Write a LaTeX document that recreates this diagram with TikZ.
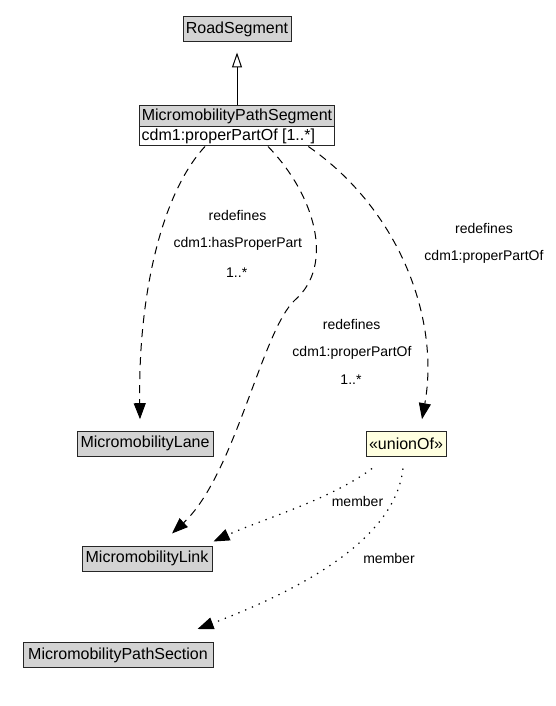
\documentclass[tikz,border=0pt]{standalone}
\usepackage{fontspec}
\setmainfont{Liberation Sans}
\usetikzlibrary{arrows.meta}
\definecolor{clsgray}{RGB}{211,211,211}
\definecolor{unionyel}{RGB}{255,255,224}
\begin{document}
\begin{tikzpicture}[x=0.75pt,y=-0.75pt,
 cls/.style={draw=black!85, line width=0.75pt, fill=clsgray, inner sep=0pt, minimum height=18.75pt, font=\fontsize{12}{14}\selectfont},
 attr/.style={draw=black!85, line width=0.75pt, fill=white, inner xsep=1.5pt, inner ysep=0pt, minimum height=14.25pt, font=\fontsize{12}{14}\selectfont},
 lbl/.style={font=\fontsize{10.5}{12}\selectfont, inner sep=0pt},
 dep/.style={draw, line width=0.75pt, dash pattern=on 6pt off 4.5pt, -{Triangle[length=12pt,width=9pt]}},
 mem/.style={draw, line width=0.9pt, dash pattern=on 1pt off 4.5pt, -{Triangle[length=12pt,width=9pt]}},
 gen/.style={draw, line width=0.75pt, -{Triangle[open,length=11.25pt,width=7.5pt]}}]
\useasboundingbox[fill=white] (0,0) rectangle (556,706);

% classes
\node[cls, minimum width=81pt] (rs) at (237,29.5) {RoadSegment};
\node[cls, minimum width=146.25pt, minimum height=15.75pt] (ps) at (237,116.5) {MicromobilityPathSegment};
\node[attr, minimum width=146.25pt] (psa) at (237,136.5) {\makebox[143pt][l]{cdm1:properPartOf [1..*]}};
\node[cls, minimum width=102pt] (lane) at (145,443.5) {MicromobilityLane};
\node[cls, fill=unionyel, minimum width=60pt] (union) at (406,443.5) {«unionOf»};
\node[cls, minimum width=97.5pt] (link) at (147,558.5) {MicromobilityLink};
\node[cls, minimum width=142.5pt] (sec) at (118,655) {MicromobilityPathSection};

% generalization
\draw[gen] (ps.north) -- ([yshift=-7.5pt]rs.south);

% redefines dependencies
\draw[dep] ([xshift=-24pt]psa.south) .. controls (160,195) and (138,300) .. ([xshift=-3.75pt,yshift=8.5pt]lane.north);
\draw[dep] ([xshift=23.25pt]psa.south) .. controls (315,195) and (335,265) .. (295,300)
  .. controls (262,330) and (235,475) .. ([xshift=18.75pt,yshift=9pt]link.north);
\draw[dep] ([xshift=53.5pt]psa.south) .. controls (400,210) and (440,320) .. ([xshift=12pt,yshift=8.5pt]union.north);

% member links
\draw[mem] ([xshift=-25.5pt,yshift=-9pt]union.south) .. controls (330,500) and (260,520) .. ([xshift=0.75pt,yshift=3pt]link.north east);
\draw[mem] ([xshift=-2.25pt,yshift=-9pt]union.south) .. controls (395,540) and (300,590) .. ([xshift=-12pt,yshift=9.75pt]sec.north east);

% labels
\node[lbl] (l1a) at (237.5,215) {redefines};
\node[lbl] (l1b) at (237.8,244) {cdm1:hasProperPart};
\node[lbl] (l1c) at (236.7,273) {1..*};
\node[lbl] (l2a) at (351.7,324) {redefines};
\node[lbl] (l2b) at (352,353) {cdm1:properPartOf};
\node[lbl] (l2c) at (351,380) {1..*};
\node[lbl] (l3a) at (484,228) {redefines};
\node[lbl] (l3b) at (484,257) {cdm1:properPartOf};
\node[lbl] (m1) at (357.5,501.7) {member};
\node[lbl] (m2) at (389,558) {member};
\end{tikzpicture}
\end{document}
